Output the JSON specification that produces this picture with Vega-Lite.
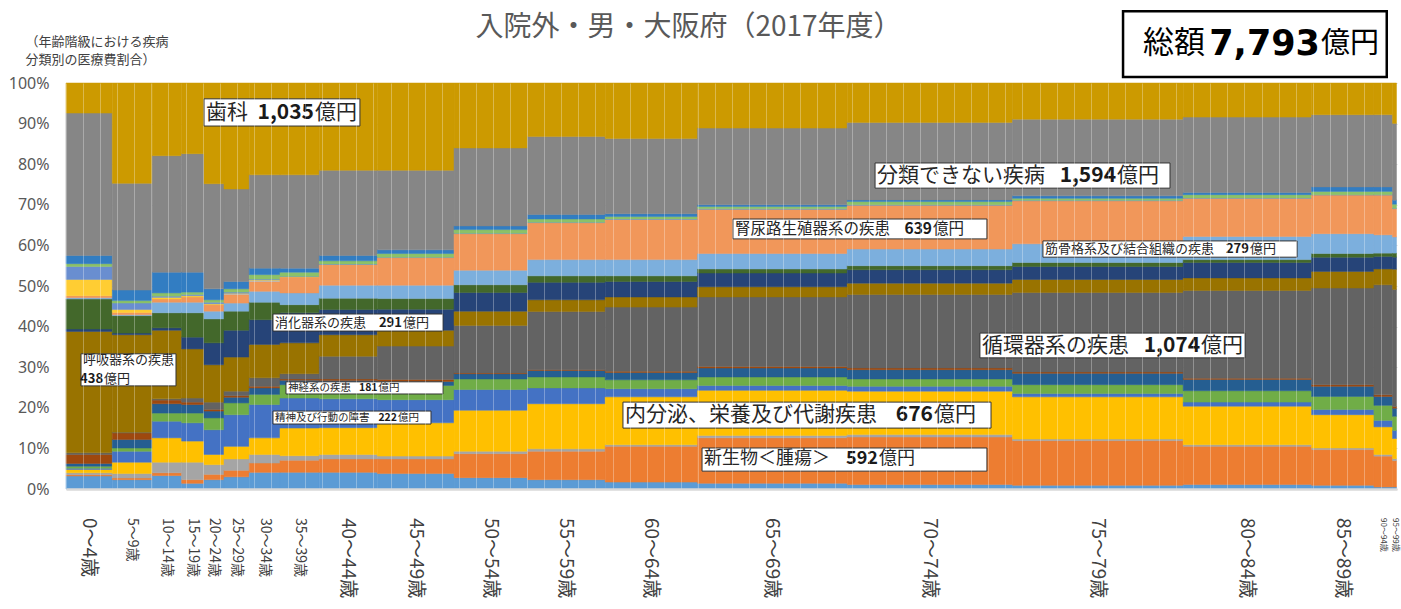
{
"$schema":"https://vega.github.io/schema/vega-lite/v6.json",
"width":1331,"height":406,
"autosize":{"type":"none"},
"padding":{"left":66,"top":83,"right":4,"bottom":120},
"background":"#ffffff",
"config":{"view":{"stroke":null},"font":"Noto Sans CJK JP"},
"title":{"text":"入院外・男・大阪府（2017年度）","fontSize":28,"fontWeight":"normal","color":"#595959","font":"Noto Sans CJK JP","anchor":"middle","dx":-43,"baseline":"bottom","offset":0,"dy":60},
"datasets":{
"ages":[{"a":"0～4歳","o":1,"t":271},{"a":"5～9歳","o":2,"t":234},{"a":"10～14歳","o":3,"t":172},{"a":"15～19歳","o":4,"t":131},{"a":"20～24歳","o":5,"t":117},{"a":"25～29歳","o":6,"t":148},{"a":"30～34歳","o":7,"t":180},{"a":"35～39歳","o":8,"t":230},{"a":"40～44歳","o":9,"t":340},{"a":"45～49歳","o":10,"t":449},{"a":"50～54歳","o":11,"t":431},{"a":"55～59歳","o":12,"t":454},{"a":"60～64歳","o":13,"t":541},{"a":"65～69歳","o":14,"t":876},{"a":"70～74歳","o":15,"t":968},{"a":"75～79歳","o":16,"t":999},{"a":"80～84歳","o":17,"t":752},{"a":"85～89歳","o":18,"t":365},{"a":"90～94歳","o":19,"t":109},{"a":"95～99歳","o":20,"t":23}],
"cats":[{"c":"感染症","k":1},{"c":"新生物","k":2},{"c":"血液","k":3},{"c":"内分泌","k":4},{"c":"精神","k":5},{"c":"神経系","k":6},{"c":"眼","k":7},{"c":"耳","k":8},{"c":"循環器","k":9},{"c":"呼吸器","k":10},{"c":"消化器","k":11},{"c":"皮膚","k":12},{"c":"筋骨格","k":13},{"c":"腎尿路","k":14},{"c":"妊娠","k":15},{"c":"周産期","k":16},{"c":"先天","k":17},{"c":"症状","k":18},{"c":"損傷","k":19},{"c":"分類不能","k":20},{"c":"歯科","k":21}],
"cells":[
{"a":"0～4歳","c":"感染症","p":3.2},{"a":"0～4歳","c":"新生物","p":0.3},{"a":"0～4歳","c":"血液","p":0.5},{"a":"0～4歳","c":"内分泌","p":0.8},{"a":"0～4歳","c":"精神","p":0.3},{"a":"0～4歳","c":"神経系","p":0.5},{"a":"0～4歳","c":"眼","p":0.7},{"a":"0～4歳","c":"耳","p":2.2},{"a":"0～4歳","c":"循環器","p":0.4},{"a":"0～4歳","c":"呼吸器","p":29.9},{"a":"0～4歳","c":"消化器","p":0.6},{"a":"0～4歳","c":"皮膚","p":7.4},{"a":"0～4歳","c":"筋骨格","p":0.3},{"a":"0～4歳","c":"腎尿路","p":0.5},{"a":"0～4歳","c":"妊娠","p":0},{"a":"0～4歳","c":"周産期","p":4.0},{"a":"0～4歳","c":"先天","p":3.2},{"a":"0～4歳","c":"症状","p":0.7},{"a":"0～4歳","c":"損傷","p":2.0},{"a":"0～4歳","c":"分類不能","p":35.1},{"a":"0～4歳","c":"歯科","p":7.4},
{"a":"5～9歳","c":"感染症","p":2.3},{"a":"5～9歳","c":"新生物","p":0.4},{"a":"5～9歳","c":"血液","p":1.1},{"a":"5～9歳","c":"内分泌","p":2.8},{"a":"5～9歳","c":"精神","p":2.7},{"a":"5～9歳","c":"神経系","p":0.8},{"a":"5～9歳","c":"眼","p":2.1},{"a":"5～9歳","c":"耳","p":1.6},{"a":"5～9歳","c":"循環器","p":0.2},{"a":"5～9歳","c":"呼吸器","p":24.0},{"a":"5～9歳","c":"消化器","p":0.4},{"a":"5～9歳","c":"皮膚","p":4.3},{"a":"5～9歳","c":"筋骨格","p":0.2},{"a":"5～9歳","c":"腎尿路","p":0.6},{"a":"5～9歳","c":"妊娠","p":0},{"a":"5～9歳","c":"周産期","p":0.7},{"a":"5～9歳","c":"先天","p":1.6},{"a":"5～9歳","c":"症状","p":0.6},{"a":"5～9歳","c":"損傷","p":2.6},{"a":"5～9歳","c":"分類不能","p":26.3},{"a":"5～9歳","c":"歯科","p":24.7},
{"a":"10～14歳","c":"感染症","p":3.3},{"a":"10～14歳","c":"新生物","p":0.7},{"a":"10～14歳","c":"血液","p":2.6},{"a":"10～14歳","c":"内分泌","p":6.0},{"a":"10～14歳","c":"精神","p":4.1},{"a":"10～14歳","c":"神経系","p":2.0},{"a":"10～14歳","c":"眼","p":2.3},{"a":"10～14歳","c":"耳","p":0.9},{"a":"10～14歳","c":"循環器","p":0.3},{"a":"10～14歳","c":"呼吸器","p":16.9},{"a":"10～14歳","c":"消化器","p":0.6},{"a":"10～14歳","c":"皮膚","p":3.7},{"a":"10～14歳","c":"筋骨格","p":2.6},{"a":"10～14歳","c":"腎尿路","p":0.8},{"a":"10～14歳","c":"妊娠","p":0},{"a":"10～14歳","c":"周産期","p":0.4},{"a":"10～14歳","c":"先天","p":0.3},{"a":"10～14歳","c":"症状","p":0.8},{"a":"10～14歳","c":"損傷","p":5.1},{"a":"10～14歳","c":"分類不能","p":28.7},{"a":"10～14歳","c":"歯科","p":17.9},
{"a":"15～19歳","c":"感染症","p":1.4},{"a":"15～19歳","c":"新生物","p":0.9},{"a":"15～19歳","c":"血液","p":4.3},{"a":"15～19歳","c":"内分泌","p":5.2},{"a":"15～19歳","c":"精神","p":4.5},{"a":"15～19歳","c":"神経系","p":2.4},{"a":"15～19歳","c":"眼","p":2.1},{"a":"15～19歳","c":"耳","p":0.6},{"a":"15～19歳","c":"循環器","p":1.0},{"a":"15～19歳","c":"呼吸器","p":12.1},{"a":"15～19歳","c":"消化器","p":2.9},{"a":"15～19歳","c":"皮膚","p":6.0},{"a":"15～19歳","c":"筋骨格","p":2.6},{"a":"15～19歳","c":"腎尿路","p":1.3},{"a":"15～19歳","c":"妊娠","p":0},{"a":"15～19歳","c":"周産期","p":0.3},{"a":"15～19歳","c":"先天","p":0.3},{"a":"15～19歳","c":"症状","p":0.6},{"a":"15～19歳","c":"損傷","p":4.9},{"a":"15～19歳","c":"分類不能","p":29.2},{"a":"15～19歳","c":"歯科","p":17.4},
{"a":"20～24歳","c":"感染症","p":2.3},{"a":"20～24歳","c":"新生物","p":1.3},{"a":"20～24歳","c":"血液","p":2.4},{"a":"20～24歳","c":"内分泌","p":2.5},{"a":"20～24歳","c":"精神","p":6.1},{"a":"20～24歳","c":"神経系","p":2.9},{"a":"20～24歳","c":"眼","p":1.7},{"a":"20～24歳","c":"耳","p":0.4},{"a":"20～24歳","c":"循環器","p":1.8},{"a":"20～24歳","c":"呼吸器","p":9.2},{"a":"20～24歳","c":"消化器","p":5.4},{"a":"20～24歳","c":"皮膚","p":5.9},{"a":"20～24歳","c":"筋骨格","p":1.9},{"a":"20～24歳","c":"腎尿路","p":1.6},{"a":"20～24歳","c":"妊娠","p":0},{"a":"20～24歳","c":"周産期","p":0.2},{"a":"20～24歳","c":"先天","p":0.4},{"a":"20～24歳","c":"症状","p":0.6},{"a":"20～24歳","c":"損傷","p":2.7},{"a":"20～24歳","c":"分類不能","p":25.9},{"a":"20～24歳","c":"歯科","p":24.8},
{"a":"25～29歳","c":"感染症","p":3.0},{"a":"25～29歳","c":"新生物","p":1.6},{"a":"25～29歳","c":"血液","p":2.8},{"a":"25～29歳","c":"内分泌","p":3.1},{"a":"25～29歳","c":"精神","p":7.8},{"a":"25～29歳","c":"神経系","p":2.9},{"a":"25～29歳","c":"眼","p":1.4},{"a":"25～29歳","c":"耳","p":0.4},{"a":"25～29歳","c":"循環器","p":1.1},{"a":"25～29歳","c":"呼吸器","p":8.4},{"a":"25～29歳","c":"消化器","p":6.6},{"a":"25～29歳","c":"皮膚","p":4.7},{"a":"25～29歳","c":"筋骨格","p":2.0},{"a":"25～29歳","c":"腎尿路","p":2.1},{"a":"25～29歳","c":"妊娠","p":0.2},{"a":"25～29歳","c":"周産期","p":0.1},{"a":"25～29歳","c":"先天","p":0.3},{"a":"25～29歳","c":"症状","p":0.8},{"a":"25～29歳","c":"損傷","p":1.8},{"a":"25～29歳","c":"分類不能","p":22.8},{"a":"25～29歳","c":"歯科","p":26.1},
{"a":"30～34歳","c":"感染症","p":4.1},{"a":"30～34歳","c":"新生物","p":2.3},{"a":"30～34歳","c":"血液","p":2.1},{"a":"30～34歳","c":"内分泌","p":4.1},{"a":"30～34歳","c":"精神","p":8.2},{"a":"30～34歳","c":"神経系","p":2.5},{"a":"30～34歳","c":"眼","p":1.6},{"a":"30～34歳","c":"耳","p":0.4},{"a":"30～34歳","c":"循環器","p":2.1},{"a":"30～34歳","c":"呼吸器","p":8.2},{"a":"30～34歳","c":"消化器","p":6.1},{"a":"30～34歳","c":"皮膚","p":4.3},{"a":"30～34歳","c":"筋骨格","p":2.7},{"a":"30～34歳","c":"腎尿路","p":2.4},{"a":"30～34歳","c":"妊娠","p":0.3},{"a":"30～34歳","c":"周産期","p":0.1},{"a":"30～34歳","c":"先天","p":0.2},{"a":"30～34歳","c":"症状","p":1.1},{"a":"30～34歳","c":"損傷","p":1.6},{"a":"30～34歳","c":"分類不能","p":23.0},{"a":"30～34歳","c":"歯科","p":22.6},
{"a":"35～39歳","c":"感染症","p":4.1},{"a":"35～39歳","c":"新生物","p":3.0},{"a":"35～39歳","c":"血液","p":1.1},{"a":"35～39歳","c":"内分泌","p":6.8},{"a":"35～39歳","c":"精神","p":7.4},{"a":"35～39歳","c":"神経系","p":3.3},{"a":"35～39歳","c":"眼","p":1.1},{"a":"35～39歳","c":"耳","p":0.3},{"a":"35～39歳","c":"循環器","p":1.3},{"a":"35～39歳","c":"呼吸器","p":7.6},{"a":"35～39歳","c":"消化器","p":7.4},{"a":"35～39歳","c":"皮膚","p":2.0},{"a":"35～39歳","c":"筋骨格","p":2.9},{"a":"35～39歳","c":"腎尿路","p":3.9},{"a":"35～39歳","c":"妊娠","p":0},{"a":"35～39歳","c":"周産期","p":0.1},{"a":"35～39歳","c":"先天","p":0.1},{"a":"35～39歳","c":"症状","p":1.0},{"a":"35～39歳","c":"損傷","p":1.0},{"a":"35～39歳","c":"分類不能","p":23.0},{"a":"35～39歳","c":"歯科","p":22.6},
{"a":"40～44歳","c":"感染症","p":4.1},{"a":"40～44歳","c":"新生物","p":3.3},{"a":"40～44歳","c":"血液","p":1.1},{"a":"40～44歳","c":"内分泌","p":6.6},{"a":"40～44歳","c":"精神","p":7.1},{"a":"40～44歳","c":"神経系","p":3.3},{"a":"40～44歳","c":"眼","p":1.2},{"a":"40～44歳","c":"耳","p":0.4},{"a":"40～44歳","c":"循環器","p":5.6},{"a":"40～44歳","c":"呼吸器","p":5.3},{"a":"40～44歳","c":"消化器","p":6.2},{"a":"40～44歳","c":"皮膚","p":2.8},{"a":"40～44歳","c":"筋骨格","p":3.2},{"a":"40～44歳","c":"腎尿路","p":5.1},{"a":"40～44歳","c":"妊娠","p":0},{"a":"40～44歳","c":"周産期","p":0},{"a":"40～44歳","c":"先天","p":0.1},{"a":"40～44歳","c":"症状","p":0.8},{"a":"40～44歳","c":"損傷","p":1.3},{"a":"40～44歳","c":"分類不能","p":21.0},{"a":"40～44歳","c":"歯科","p":21.5},
{"a":"45～49歳","c":"感染症","p":3.8},{"a":"45～49歳","c":"新生物","p":3.6},{"a":"45～49歳","c":"血液","p":0.7},{"a":"45～49歳","c":"内分泌","p":8.2},{"a":"45～49歳","c":"精神","p":5.7},{"a":"45～49歳","c":"神経系","p":3.5},{"a":"45～49歳","c":"眼","p":1.0},{"a":"45～49歳","c":"耳","p":0.5},{"a":"45～49歳","c":"循環器","p":8.2},{"a":"45～49歳","c":"呼吸器","p":3.9},{"a":"45～49歳","c":"消化器","p":5.2},{"a":"45～49歳","c":"皮膚","p":2.6},{"a":"45～49歳","c":"筋骨格","p":3.3},{"a":"45～49歳","c":"腎尿路","p":6.8},{"a":"45～49歳","c":"妊娠","p":0},{"a":"45～49歳","c":"周産期","p":0},{"a":"45～49歳","c":"先天","p":0.1},{"a":"45～49歳","c":"症状","p":0.9},{"a":"45～49歳","c":"損傷","p":0.9},{"a":"45～49歳","c":"分類不能","p":19.6},{"a":"45～49歳","c":"歯科","p":21.5},
{"a":"50～54歳","c":"感染症","p":2.8},{"a":"50～54歳","c":"新生物","p":5.9},{"a":"50～54歳","c":"血液","p":0.6},{"a":"50～54歳","c":"内分泌","p":10.1},{"a":"50～54歳","c":"精神","p":5.1},{"a":"50～54歳","c":"神経系","p":2.6},{"a":"50～54歳","c":"眼","p":1.3},{"a":"50～54歳","c":"耳","p":0.2},{"a":"50～54歳","c":"循環器","p":11.7},{"a":"50～54歳","c":"呼吸器","p":3.5},{"a":"50～54歳","c":"消化器","p":4.6},{"a":"50～54歳","c":"皮膚","p":1.9},{"a":"50～54歳","c":"筋骨格","p":3.6},{"a":"50～54歳","c":"腎尿路","p":9.0},{"a":"50～54歳","c":"妊娠","p":0},{"a":"50～54歳","c":"周産期","p":0},{"a":"50～54歳","c":"先天","p":0.1},{"a":"50～54歳","c":"症状","p":0.9},{"a":"50～54歳","c":"損傷","p":0.9},{"a":"50～54歳","c":"分類不能","p":19.2},{"a":"50～54歳","c":"歯科","p":16.0},
{"a":"55～59歳","c":"感染症","p":2.3},{"a":"55～59歳","c":"新生物","p":7.0},{"a":"55～59歳","c":"血液","p":0.6},{"a":"55～59歳","c":"内分泌","p":11.1},{"a":"55～59歳","c":"精神","p":3.9},{"a":"55～59歳","c":"神経系","p":2.7},{"a":"55～59歳","c":"眼","p":1.6},{"a":"55～59歳","c":"耳","p":0.2},{"a":"55～59歳","c":"循環器","p":14.3},{"a":"55～59歳","c":"呼吸器","p":2.9},{"a":"55～59歳","c":"消化器","p":4.3},{"a":"55～59歳","c":"皮膚","p":1.6},{"a":"55～59歳","c":"筋骨格","p":4.0},{"a":"55～59歳","c":"腎尿路","p":9.1},{"a":"55～59歳","c":"妊娠","p":0},{"a":"55～59歳","c":"周産期","p":0},{"a":"55～59歳","c":"先天","p":0.1},{"a":"55～59歳","c":"症状","p":0.8},{"a":"55～59歳","c":"損傷","p":1.1},{"a":"55～59歳","c":"分類不能","p":19.2},{"a":"55～59歳","c":"歯科","p":13.2},
{"a":"60～64歳","c":"感染症","p":1.7},{"a":"60～64歳","c":"新生物","p":8.8},{"a":"60～64歳","c":"血液","p":0.4},{"a":"60～64歳","c":"内分泌","p":11.8},{"a":"60～64歳","c":"精神","p":2.0},{"a":"60～64歳","c":"神経系","p":2.2},{"a":"60～64歳","c":"眼","p":1.8},{"a":"60～64歳","c":"耳","p":0.3},{"a":"60～64歳","c":"循環器","p":15.8},{"a":"60～64歳","c":"呼吸器","p":2.5},{"a":"60～64歳","c":"消化器","p":3.8},{"a":"60～64歳","c":"皮膚","p":1.4},{"a":"60～64歳","c":"筋骨格","p":4.0},{"a":"60～64歳","c":"腎尿路","p":9.9},{"a":"60～64歳","c":"妊娠","p":0},{"a":"60～64歳","c":"周産期","p":0},{"a":"60～64歳","c":"先天","p":0.1},{"a":"60～64歳","c":"症状","p":0.6},{"a":"60～64歳","c":"損傷","p":0.7},{"a":"60～64歳","c":"分類不能","p":18.5},{"a":"60～64歳","c":"歯科","p":13.7},
{"a":"65～69歳","c":"感染症","p":1.4},{"a":"65～69歳","c":"新生物","p":11.2},{"a":"65～69歳","c":"血液","p":0.6},{"a":"65～69歳","c":"内分泌","p":11.1},{"a":"65～69歳","c":"精神","p":1.2},{"a":"65～69歳","c":"神経系","p":2.1},{"a":"65～69歳","c":"眼","p":2.2},{"a":"65～69歳","c":"耳","p":0.4},{"a":"65～69歳","c":"循環器","p":17.1},{"a":"65～69歳","c":"呼吸器","p":2.5},{"a":"65～69歳","c":"消化器","p":3.4},{"a":"65～69歳","c":"皮膚","p":1.0},{"a":"65～69歳","c":"筋骨格","p":3.8},{"a":"65～69歳","c":"腎尿路","p":10.9},{"a":"65～69歳","c":"妊娠","p":0},{"a":"65～69歳","c":"周産期","p":0},{"a":"65～69歳","c":"先天","p":0.1},{"a":"65～69歳","c":"症状","p":0.6},{"a":"65～69歳","c":"損傷","p":0.4},{"a":"65～69歳","c":"分類不能","p":18.9},{"a":"65～69歳","c":"歯科","p":11.1},
{"a":"70～74歳","c":"感染症","p":1.1},{"a":"70～74歳","c":"新生物","p":11.7},{"a":"70～74歳","c":"血液","p":0.6},{"a":"70～74歳","c":"内分泌","p":10.7},{"a":"70～74歳","c":"精神","p":1.2},{"a":"70～74歳","c":"神経系","p":1.8},{"a":"70～74歳","c":"眼","p":2.3},{"a":"70～74歳","c":"耳","p":0.4},{"a":"70～74歳","c":"循環器","p":18.1},{"a":"70～74歳","c":"呼吸器","p":2.8},{"a":"70～74歳","c":"消化器","p":3.3},{"a":"70～74歳","c":"皮膚","p":1.0},{"a":"70～74歳","c":"筋骨格","p":4.1},{"a":"70～74歳","c":"腎尿路","p":10.8},{"a":"70～74歳","c":"妊娠","p":0},{"a":"70～74歳","c":"周産期","p":0},{"a":"70～74歳","c":"先天","p":0.1},{"a":"70～74歳","c":"症状","p":0.8},{"a":"70～74歳","c":"損傷","p":0.4},{"a":"70～74歳","c":"分類不能","p":19.1},{"a":"70～74歳","c":"歯科","p":9.7},
{"a":"75～79歳","c":"感染症","p":0.9},{"a":"75～79歳","c":"新生物","p":11.0},{"a":"75～79歳","c":"血液","p":0.4},{"a":"75～79歳","c":"内分泌","p":10.4},{"a":"75～79歳","c":"精神","p":0.8},{"a":"75～79歳","c":"神経系","p":2.2},{"a":"75～79歳","c":"眼","p":2.8},{"a":"75～79歳","c":"耳","p":0.3},{"a":"75～79歳","c":"循環器","p":19.6},{"a":"75～79歳","c":"呼吸器","p":3.2},{"a":"75～79歳","c":"消化器","p":3.2},{"a":"75～79歳","c":"皮膚","p":1.0},{"a":"75～79歳","c":"筋骨格","p":4.6},{"a":"75～79歳","c":"腎尿路","p":10.6},{"a":"75～79歳","c":"妊娠","p":0},{"a":"75～79歳","c":"周産期","p":0},{"a":"75～79歳","c":"先天","p":0.1},{"a":"75～79歳","c":"症状","p":0.5},{"a":"75～79歳","c":"損傷","p":0.6},{"a":"75～79歳","c":"分類不能","p":18.9},{"a":"75～79歳","c":"歯科","p":8.9},
{"a":"80～84歳","c":"感染症","p":1.1},{"a":"80～84歳","c":"新生物","p":9.4},{"a":"80～84歳","c":"血液","p":0.4},{"a":"80～84歳","c":"内分泌","p":9.5},{"a":"80～84歳","c":"精神","p":1.0},{"a":"80～84歳","c":"神経系","p":2.8},{"a":"80～84歳","c":"眼","p":2.8},{"a":"80～84歳","c":"耳","p":0.3},{"a":"80～84歳","c":"循環器","p":21.6},{"a":"80～84歳","c":"呼吸器","p":3.1},{"a":"80～84歳","c":"消化器","p":3.8},{"a":"80～84歳","c":"皮膚","p":0.7},{"a":"80～84歳","c":"筋骨格","p":5.7},{"a":"80～84歳","c":"腎尿路","p":9.4},{"a":"80～84歳","c":"妊娠","p":0},{"a":"80～84歳","c":"周産期","p":0},{"a":"80～84歳","c":"先天","p":0.1},{"a":"80～84歳","c":"症状","p":0.8},{"a":"80～84歳","c":"損傷","p":0.5},{"a":"80～84歳","c":"分類不能","p":18.6},{"a":"80～84歳","c":"歯科","p":8.4},
{"a":"85～89歳","c":"感染症","p":0.9},{"a":"85～89歳","c":"新生物","p":8.8},{"a":"85～89歳","c":"血液","p":0.4},{"a":"85～89歳","c":"内分泌","p":8.2},{"a":"85～89歳","c":"精神","p":1.3},{"a":"85～89歳","c":"神経系","p":3.2},{"a":"85～89歳","c":"眼","p":2.5},{"a":"85～89歳","c":"耳","p":0.4},{"a":"85～89歳","c":"循環器","p":23.8},{"a":"85～89歳","c":"呼吸器","p":4.1},{"a":"85～89歳","c":"消化器","p":3.5},{"a":"85～89歳","c":"皮膚","p":0.9},{"a":"85～89歳","c":"筋骨格","p":4.9},{"a":"85～89歳","c":"腎尿路","p":9.5},{"a":"85～89歳","c":"妊娠","p":0},{"a":"85～89歳","c":"周産期","p":0},{"a":"85～89歳","c":"先天","p":0.1},{"a":"85～89歳","c":"症状","p":0.8},{"a":"85～89歳","c":"損傷","p":1.1},{"a":"85～89歳","c":"分類不能","p":17.8},{"a":"85～89歳","c":"歯科","p":7.8},
{"a":"90～94歳","c":"感染症","p":0.5},{"a":"90～94歳","c":"新生物","p":7.6},{"a":"90～94歳","c":"血液","p":0.4},{"a":"90～94歳","c":"内分泌","p":6.8},{"a":"90～94歳","c":"精神","p":1.6},{"a":"90～94歳","c":"神経系","p":3.7},{"a":"90～94歳","c":"眼","p":2.2},{"a":"90～94歳","c":"耳","p":0.4},{"a":"90～94歳","c":"循環器","p":27.1},{"a":"90～94歳","c":"呼吸器","p":3.9},{"a":"90～94歳","c":"消化器","p":3.1},{"a":"90～94歳","c":"皮膚","p":0.8},{"a":"90～94歳","c":"筋骨格","p":4.5},{"a":"90～94歳","c":"腎尿路","p":9.8},{"a":"90～94歳","c":"妊娠","p":0},{"a":"90～94歳","c":"周産期","p":0},{"a":"90～94歳","c":"先天","p":0.1},{"a":"90～94歳","c":"症状","p":0.8},{"a":"90～94歳","c":"損傷","p":1.1},{"a":"90～94歳","c":"分類不能","p":17.8},{"a":"90～94歳","c":"歯科","p":7.8},
{"a":"95～99歳","c":"感染症","p":0.5},{"a":"95～99歳","c":"新生物","p":6.5},{"a":"95～99歳","c":"血液","p":0.5},{"a":"95～99歳","c":"内分泌","p":5.0},{"a":"95～99歳","c":"精神","p":2.0},{"a":"95～99歳","c":"神経系","p":3.5},{"a":"95～99歳","c":"眼","p":2.0},{"a":"95～99歳","c":"耳","p":0.4},{"a":"95～99歳","c":"循環器","p":29.0},{"a":"95～99歳","c":"呼吸器","p":5.0},{"a":"95～99歳","c":"消化器","p":3.0},{"a":"95～99歳","c":"皮膚","p":1.0},{"a":"95～99歳","c":"筋骨格","p":4.0},{"a":"95～99歳","c":"腎尿路","p":7.0},{"a":"95～99歳","c":"妊娠","p":0},{"a":"95～99歳","c":"周産期","p":0},{"a":"95～99歳","c":"先天","p":0.1},{"a":"95～99歳","c":"症状","p":1.0},{"a":"95～99歳","c":"損傷","p":1.0},{"a":"95～99歳","c":"分類不能","p":19.0},{"a":"95～99歳","c":"歯科","p":10.0}
],
"notes":[
{"id":"歯科","name":"歯科","num":"1,035","x0":808,"x1":1721,"y0":0.894,"y1":0.961,"xn":1452,"yc":0.927},
{"id":"分類","name":"分類できない疾病","num":"1,594","x0":4737,"x1":6464,"y0":0.741,"y1":0.803,"xn":6148,"yc":0.772},
{"id":"腎尿路","name":"腎尿路生殖器系の疾患","num":"639","x0":3905,"x1":5392,"y0":0.616,"y1":0.665,"xn":5070,"yc":0.640},
{"id":"筋骨格","name":"筋骨格系及び結合組織の疾患","num":"279","x0":5720,"x1":7208,"y0":0.571,"y1":0.611,"xn":6926,"yc":0.591},
{"id":"消化器","name":"消化器系の疾患","num":"291","x0":1212,"x1":2207,"y0":0.389,"y1":0.431,"xn":1967,"yc":0.410},
{"id":"循環器","name":"循環器系の疾患","num":"1,074","x0":5351,"x1":6903,"y0":0.323,"y1":0.384,"xn":6640,"yc":0.353},
{"id":"呼吸器","name":"呼吸器系の疾患","x0":88,"x1":644,"y0":0.254,"y1":0.333,"yc":0.318},
{"id":"呼吸器2","num":"438","xn":217,"yc":0.271},
{"id":"神経系","name":"神経系の疾患","num":"181","x0":1288,"x1":2207,"y0":0.234,"y1":0.264,"xn":1824,"yc":0.249},
{"id":"精神","name":"精神及び行動の障害","num":"222","x0":1212,"x1":2137,"y0":0.160,"y1":0.192,"xn":1938,"yc":0.176},
{"id":"内分泌","name":"内分泌、栄養及び代謝疾患","num":"676","x0":3261,"x1":5416,"y0":0.150,"y1":0.214,"xn":5076,"yc":0.182},
{"id":"新生物","name":"新生物＜腫瘍＞","num":"592","x0":3724,"x1":5392,"y0":0.044,"y1":0.101,"xn":4754,"yc":0.073},
{"id":"総額","name":"総額","num":"7,793","x0":6189,"x1":7733,"y0":1.015,"y1":1.177,"xn":7342,"yc":1.096}
]
},
"resolve":{"scale":{"size":"independent"}},
"layer":[
{
"data":{"name":"cells"},
"transform":[
{"lookup":"a","from":{"data":{"name":"ages"},"key":"a","fields":["o","t"]}},
{"lookup":"c","from":{"data":{"name":"cats"},"key":"c","fields":["k"]}},
{"stack":"p","groupby":["a"],"sort":[{"field":"k","order":"ascending"}],"offset":"normalize","as":["y0","y1"]},
{"stack":"t","groupby":["c"],"sort":[{"field":"o","order":"ascending"}],"as":["x0","x1"]},
{"filter":{"field":"p","gt":0}}
],
"mark":{"type":"rect","strokeWidth":0.5},
"encoding":{
"x":{"field":"x0","type":"quantitative","scale":{"domain":[0,7793],"nice":false,"zero":true},
"axis":{"title":null,"labels":false,"ticks":false,"domain":true,"domainColor":"#D9D9D9","domainWidth":2.5,"grid":true,"gridColor":"#ffffff","gridOpacity":0.3,"gridWidth":1,"tickCount":70,"zindex":1}},
"x2":{"field":"x1"},
"y":{"field":"y0","type":"quantitative","scale":{"domain":[0,1],"nice":false},
"axis":{"title":["（年齢階級における疾病","分類別の医療費割合）"],"titleAngle":0,"titleAlign":"left","titleBaseline":"top","titleX":-41,"titleY":-48,"titleFontSize":13,"titleFontWeight":"normal","titleColor":"#404040","titleLineHeight":18,"titleFont":"Noto Sans CJK JP","format":".0%","tickCount":10,"domain":false,"ticks":false,"labelPadding":17,"labelFontSize":16,"labelColor":"#595959","labelFont":"Noto Sans","grid":true,"gridColor":"#D9D9D9","zindex":0}},
"y2":{"field":"y1"},
"color":{"field":"c","type":"nominal","legend":null,"scale":{"domain":["感染症","新生物","血液","内分泌","精神","神経系","眼","耳","循環器","呼吸器","消化器","皮膚","筋骨格","腎尿路","妊娠","周産期","先天","症状","損傷","分類不能","歯科"],"range":["#5B9BD5","#ED7D31","#A5A5A5","#FFC000","#4472C4","#70AD47","#255E91","#9E480E","#636363","#997300","#264478","#43682B","#7CAFDD","#F1975A","#B7B7B7","#FFCD33","#698ED0","#8CC168","#327DC2","#868686","#CC9A00"]}},
"stroke":{"field":"c","type":"nominal","legend":null,"scale":{"domain":["感染症","新生物","血液","内分泌","精神","神経系","眼","耳","循環器","呼吸器","消化器","皮膚","筋骨格","腎尿路","妊娠","周産期","先天","症状","損傷","分類不能","歯科"],"range":["#5B9BD5","#ED7D31","#A5A5A5","#FFC000","#4472C4","#70AD47","#255E91","#9E480E","#636363","#997300","#264478","#43682B","#7CAFDD","#F1975A","#B7B7B7","#FFCD33","#698ED0","#8CC168","#327DC2","#868686","#CC9A00"]}}
}
},
{
"data":{"name":"ages"},
"transform":[
{"stack":"t","groupby":[],"sort":[{"field":"o","order":"ascending"}],"as":["s0","s1"]},
{"fold":["s0","s1"],"as":["side","edge"]},
{"aggregate":[{"op":"mean","field":"edge","as":"mid"}],"groupby":["a","t"]}
],
"mark":{"type":"text","angle":90,"align":"left","baseline":"middle","dx":29,"color":"#404040","font":"Noto Sans CJK JP"},
"encoding":{
"x":{"field":"mid","type":"quantitative","scale":{"domain":[0,7793],"nice":false,"zero":true}},
"y":{"datum":0,"type":"quantitative","scale":{"domain":[0,1],"nice":false}},
"text":{"field":"a"},
"size":{"field":"t","type":"quantitative","legend":null,"scale":{"type":"threshold","domain":[112,250],"range":[8,14,19]}}
}
},
{
"data":{"name":"notes"},
"transform":[{"filter":"isValid(datum.x0) && datum.id !== '総額'"}],
"mark":{"type":"rect","fill":"#ffffff","stroke":"#333333","strokeWidth":1},
"encoding":{
"x":{"field":"x0","type":"quantitative","scale":{"domain":[0,7793],"nice":false,"zero":true}},
"x2":{"field":"x1"},
"y":{"field":"y0","type":"quantitative","scale":{"domain":[0,1],"nice":false}},
"y2":{"field":"y1"}
}
},
{
"data":{"name":"notes"},
"transform":[{"filter":"datum.id === '総額'"}],
"mark":{"type":"rect","fill":"#ffffff","stroke":"#000000","strokeWidth":2.5},
"encoding":{
"x":{"field":"x0","type":"quantitative","scale":{"domain":[0,7793],"nice":false,"zero":true}},
"x2":{"field":"x1"},
"y":{"field":"y0","type":"quantitative","scale":{"domain":[0,1],"nice":false}},
"y2":{"field":"y1"}
}
},
{
"data":{"name":"notes"},
"transform":[{"filter":"isValid(datum.name) && datum.id !== '総額'"}],
"mark":{"type":"text","align":"left","baseline":"middle","dx":2,"color":"#262626","font":"Noto Sans CJK JP"},
"encoding":{
"x":{"field":"x0","type":"quantitative","scale":{"domain":[0,7793],"nice":false,"zero":true}},
"y":{"field":"yc","type":"quantitative","scale":{"domain":[0,1],"nice":false}},
"text":{"field":"name"},
"size":{"field":"id","type":"nominal","legend":null,"scale":{"type":"ordinal","domain":["歯科","分類","腎尿路","筋骨格","消化器","循環器","呼吸器","呼吸器2","神経系","精神","内分泌","新生物"],"range":[21,21,15.5,13,13,21,13,13,10.5,10.5,21,18]}}
}
},
{
"data":{"name":"notes"},
"transform":[{"filter":"isValid(datum.num) && datum.id !== '総額'"}],
"mark":{"type":"text","align":"right","baseline":"middle","fontWeight":"bold","color":"#1a1a1a","font":"Noto Sans CJK JP"},
"encoding":{
"x":{"field":"xn","type":"quantitative","scale":{"domain":[0,7793],"nice":false,"zero":true}},
"y":{"field":"yc","type":"quantitative","scale":{"domain":[0,1],"nice":false}},
"text":{"field":"num"},
"size":{"field":"id","type":"nominal","legend":null,"scale":{"type":"ordinal","domain":["歯科","分類","腎尿路","筋骨格","消化器","循環器","呼吸器","呼吸器2","神経系","精神","内分泌","新生物"],"range":[21,21,15.5,13,13,21,13,13,10.5,10.5,21,18]}}
}
},
{
"data":{"name":"notes"},
"transform":[{"filter":"isValid(datum.num) && datum.id !== '総額'"}],
"mark":{"type":"text","align":"left","baseline":"middle","dx":1,"color":"#262626","font":"Noto Sans CJK JP"},
"encoding":{
"x":{"field":"xn","type":"quantitative","scale":{"domain":[0,7793],"nice":false,"zero":true}},
"y":{"field":"yc","type":"quantitative","scale":{"domain":[0,1],"nice":false}},
"text":{"value":"億円"},
"size":{"field":"id","type":"nominal","legend":null,"scale":{"type":"ordinal","domain":["歯科","分類","腎尿路","筋骨格","消化器","循環器","呼吸器","呼吸器2","神経系","精神","内分泌","新生物"],"range":[21,21,15.5,13,13,21,13,13,10.5,10.5,21,18]}}
}
},
{
"data":{"name":"notes"},
"transform":[{"filter":"datum.id === '総額'"}],
"mark":{"type":"text","align":"left","baseline":"middle","dx":20,"fontSize":31,"color":"#000000","font":"Noto Sans CJK JP"},
"encoding":{
"x":{"field":"x0","type":"quantitative","scale":{"domain":[0,7793],"nice":false,"zero":true}},
"y":{"field":"yc","type":"quantitative","scale":{"domain":[0,1],"nice":false}},
"text":{"field":"name"}
}
},
{
"data":{"name":"notes"},
"transform":[{"filter":"datum.id === '総額'"}],
"mark":{"type":"text","align":"right","baseline":"middle","fontSize":35,"fontWeight":"bold","color":"#000000","font":"DejaVu Sans"},
"encoding":{
"x":{"field":"xn","type":"quantitative","scale":{"domain":[0,7793],"nice":false,"zero":true}},
"y":{"field":"yc","type":"quantitative","scale":{"domain":[0,1],"nice":false}},
"text":{"field":"num"}
}
},
{
"data":{"name":"notes"},
"transform":[{"filter":"datum.id === '総額'"}],
"mark":{"type":"text","align":"left","baseline":"middle","dx":1,"fontSize":29,"color":"#000000","font":"Noto Sans CJK JP"},
"encoding":{
"x":{"field":"xn","type":"quantitative","scale":{"domain":[0,7793],"nice":false,"zero":true}},
"y":{"field":"yc","type":"quantitative","scale":{"domain":[0,1],"nice":false}},
"text":{"value":"億円"}
}
}
]
}
